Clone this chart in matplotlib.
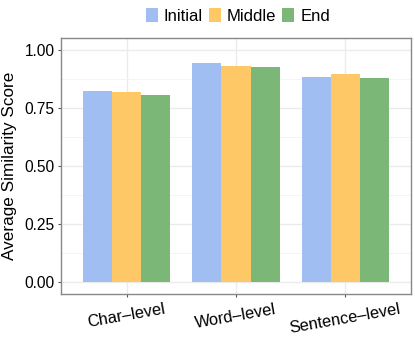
import numpy as np
import matplotlib
matplotlib.use("Agg")
import matplotlib.pyplot as plt
from matplotlib.ticker import MultipleLocator

plt.rcParams['font.family'] = ['Liberation Sans', 'DejaVu Sans']

categories = ["Char\u2013level", "Word\u2013level", "Sentence\u2013level"]
series = ["Initial", "Middle", "End"]
initial = [0.823, 0.945, 0.884]
middle = [0.820, 0.932, 0.898]
end = [0.807, 0.928, 0.878]
colors = ["#a0bef2", "#fdc865", "#7bb877"]

fig = plt.figure(figsize=(4.15, 3.57), dpi=100)
ax = fig.add_axes([61/415, 1-294/357, 350/415, 256/357])

x = np.arange(1, len(categories) + 1)
w = 0.8 / 3
for k, (name, vals) in enumerate(zip(series, [initial, middle, end])):
    ax.bar(x + (k - 1) * w, vals, width=w, color=colors[k], label=name, zorder=2)

ax.set_xlim(0.4, 3.6)
ax.set_ylim(-0.052, 1.052)
ax.yaxis.set_minor_locator(MultipleLocator(0.125))
ax.set_yticks([0, 0.25, 0.5, 0.75, 1.0])
ax.set_yticklabels(["0.00", "0.25", "0.50", "0.75", "1.00"])
ax.set_xticks(x)
ax.set_xticklabels(categories, rotation=10, fontsize=11.8)
ax.tick_params(axis='y', labelsize=11.2, pad=2)
ax.tick_params(axis='x', pad=3)
ax.tick_params(which='major', direction='out', length=2.5, color='#555555', labelcolor='black', width=0.8)
ax.tick_params(which='minor', length=0)
ax.grid(which='major', color='#ebebeb', linewidth=1.0, zorder=0)
ax.grid(which='minor', color='#f3f3f3', linewidth=0.6, zorder=0)
ax.set_axisbelow(True)
for s in ax.spines.values():
    s.set_color('#888888')
    s.set_linewidth(1.0)
ax.set_ylabel("Average Similarity Score", fontsize=12.3)
ax.yaxis.set_label_coords((17 - 61) / 350, 0.5)

handles, labels = ax.get_legend_handles_labels()
fig.legend(handles, labels, loc='center', bbox_to_anchor=(238/415, 1-16/357), ncol=3,
           frameon=False, fontsize=12, handlelength=0.72, handleheight=0.84,
           handletextpad=0.36, columnspacing=0.36)

fig.savefig("out.png", dpi=100)
